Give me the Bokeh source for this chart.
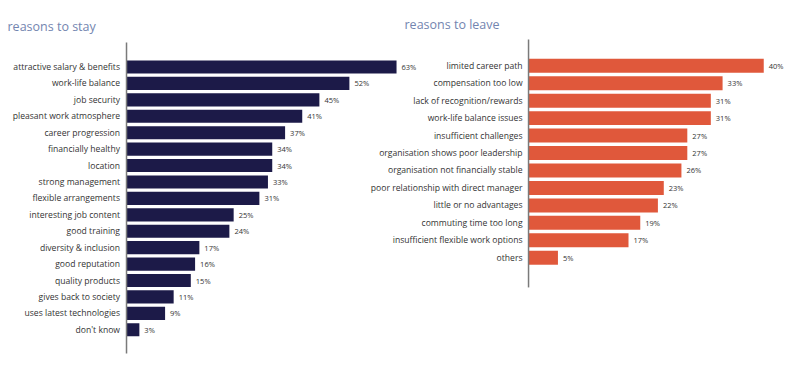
import numpy as np
from bokeh.plotting import figure
from bokeh.models import Range1d, ColumnDataSource, Label
from bokeh.core.properties import value
from bokeh.embed import file_html
from bokeh.resources import INLINE

stay_labels = ["attractive salary & benefits", "work-life balance", "job security",
               "pleasant work atmosphere", "career progression", "financially healthy",
               "location", "strong management", "flexible arrangements",
               "interesting job content", "good training", "diversity & inclusion",
               "good reputation", "quality products", "gives back to society",
               "uses latest technologies", "don't know"]
stay_values = [63, 52, 45, 41, 37, 34, 34, 33, 31, 25, 24, 17, 16, 15, 11, 9, 3]

leave_labels = ["limited career path", "compensation too low", "lack of recognition/rewards",
                "work-life balance issues", "insufficient challenges",
                "organisation shows poor leadership", "organisation not financially stable",
                "poor relationship with direct manager", "little or no advantages",
                "commuting time too long", "insufficient flexible work options", "others"]
leave_values = [40, 33, 31, 31, 27, 27, 26, 23, 22, 19, 17, 5]

FONT = "Open Sans"
NAVY = "#1c1a48"
ORANGE = "#e0583b"
LABEL_COLOR = "#333333"
TITLE_COLOR = "#7385b0"
AXIS_COLOR = "#7a7a7a"

stay_src = ColumnDataSource(dict(
    pos=np.arange(len(stay_labels))[::-1],
    val=stay_values,
    label=stay_labels,
    txt=[f"{v}%" for v in stay_values],
))
leave_src = ColumnDataSource(dict(
    pos=np.arange(len(leave_labels))[::-1],
    val=leave_values,
    label=leave_labels,
    txt=[f"{v}%" for v in leave_values],
))

p = figure(width=800, height=370,
           x_range=Range1d(-29.40, 157.25), y_range=Range1d(-2.48, 20.05),
           output_backend="svg", toolbar_location=None, min_border=0,
           x_axis_location=None, y_axis_location=None)
p.extra_x_ranges = {"r": Range1d(-89.80, 46.25)}
p.extra_y_ranges = {"r": Range1d(-6.46, 14.74)}
p.outline_line_color = None
p.grid.grid_line_color = None
p.background_fill_color = "white"
p.border_fill_color = "white"

# left panel
p.hbar(y="pos", left=0, right="val", height=0.8, source=stay_src,
       fill_color=NAVY, line_color=None)
p.text(x=0, y="pos", text="label", source=stay_src, x_offset=-6.5,
       text_align="right", text_baseline="middle", text_font=value(FONT),
       text_font_size="8.6px", text_color=LABEL_COLOR)
p.text(x="val", y="pos", text="txt", source=stay_src, x_offset=5,
       text_align="left", text_baseline="middle", text_font=value(FONT),
       text_font_size="7.5px", text_color=LABEL_COLOR)
n_s = len(stay_labels)
p.segment(x0=[0], x1=[0], y0=[n_s - 1 + 1.49], y1=[-1.44],
          line_color=AXIS_COLOR, line_width=1.5)

# right panel
p.hbar(y="pos", left=0, right="val", height=0.8, source=leave_src,
       fill_color=ORANGE, line_color=None, x_range_name="r", y_range_name="r")
p.text(x=0, y="pos", text="label", source=leave_src, x_offset=-6,
       text_align="right", text_baseline="middle", text_font=value(FONT),
       text_font_size="8.6px", text_color=LABEL_COLOR,
       x_range_name="r", y_range_name="r")
p.text(x="val", y="pos", text="txt", source=leave_src, x_offset=5,
       text_align="left", text_baseline="middle", text_font=value(FONT),
       text_font_size="7.5px", text_color=LABEL_COLOR,
       x_range_name="r", y_range_name="r")
n_l = len(leave_labels)
p.segment(x0=[0], x1=[0], y0=[n_l - 1 + 1.51], y1=[-1.70],
          line_color=AXIS_COLOR, line_width=1.5,
          x_range_name="r", y_range_name="r")

# titles
p.add_layout(Label(x=7, y=344.5, x_units="screen", y_units="screen",
                   text="reasons to stay", text_font=FONT, text_font_size="12.5px",
                   text_color=TITLE_COLOR, text_baseline="alphabetic"))
p.add_layout(Label(x=404, y=346, x_units="screen", y_units="screen",
                   text="reasons to leave", text_font=FONT, text_font_size="12.5px",
                   text_color=TITLE_COLOR, text_baseline="alphabetic"))

open("out.html", "w").write(file_html(p, INLINE))
